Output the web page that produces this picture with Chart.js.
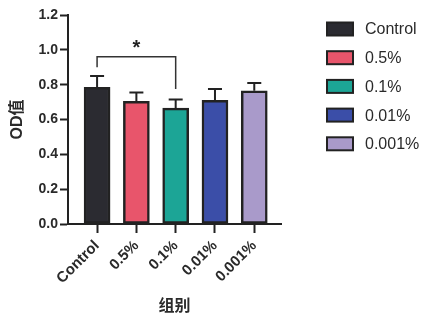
<!DOCTYPE html>
<html>
<head>
<meta charset="utf-8">
<script src="https://cdn.jsdelivr.net/npm/chart.js@4.4.0/dist/chart.umd.min.js"></script>
<style>
  html, body { margin: 0; padding: 0; background: #ffffff; }
  #wrap { width: 431px; height: 323px; }
</style>
</head>
<body>
<div id="wrap"><canvas id="od__chart" width="431" height="323"></canvas></div>
<script>
// Groups and values
const groups = ['Control', '0.5%', '0.1%', '0.01%', '0.001%'];
const odMeans = [0.785, 0.705, 0.665, 0.71, 0.765];
const odErrors = [0.065, 0.05, 0.05, 0.065, 0.045];
const yTicks = [0, 0.2, 0.4, 0.6, 0.8, 1.0, 1.2];

// Significance bracket: from group index, to group index, top value, left leg end, right leg end
const sigFrom = 0;
const sigTo = 2;
const sigLevels = [0.96, 0.90, 0.775];
const sigText = '*';

const barColors = ['#2b2b31', '#e8556b', '#1ca596', '#3b4ea8', '#a99aca'];
const inkColor = '#222222';
const fontFamily = "'Liberation Sans', Arial, 'Noto Sans CJK SC', sans-serif";

// Error bars + bracket drawn on top of the bars
const errorBarPlugin = {
  id: 'errorBars',
  afterDatasetsDraw(chart) {
    const ctx = chart.ctx;
    const x = chart.scales.x;
    const y = chart.scales.y;
    ctx.save();
    ctx.strokeStyle = inkColor;
    ctx.lineWidth = 2;
    odMeans.forEach((m, i) => {
      const px = x.getPixelForValue(i);
      const top = y.getPixelForValue(m);
      const errTop = y.getPixelForValue(m + odErrors[i]);
      ctx.beginPath();
      ctx.moveTo(px, top);
      ctx.lineTo(px, errTop);
      ctx.moveTo(px - 7, errTop);
      ctx.lineTo(px + 7, errTop);
      ctx.stroke();
    });

    // bracket
    const x1 = x.getPixelForValue(sigFrom);
    const x2 = x.getPixelForValue(sigTo);
    const yTop = y.getPixelForValue(sigLevels[0]);
    ctx.lineWidth = 1.5;
    ctx.strokeStyle = '#333333';
    ctx.beginPath();
    ctx.moveTo(x1, y.getPixelForValue(sigLevels[1]));
    ctx.lineTo(x1, yTop);
    ctx.lineTo(x2, yTop);
    ctx.lineTo(x2, y.getPixelForValue(sigLevels[2]));
    ctx.stroke();
    ctx.fillStyle = inkColor;
    ctx.font = 'bold 20px ' + fontFamily;
    ctx.textAlign = 'center';
    ctx.textBaseline = 'middle';
    ctx.fillText(sigText, (x1 + x2) / 2, yTop - 8);
    ctx.restore();
  }
};

// Legend on the right, one box per group
const sideLegendPlugin = {
  id: 'sideLegend',
  afterDraw(chart) {
    const ctx = chart.ctx;
    ctx.save();
    ctx.font = '16px ' + fontFamily;
    ctx.textAlign = 'left';
    ctx.textBaseline = 'middle';
    groups.forEach((g, i) => {
      const cy = 29 + i * 28.7;
      ctx.fillStyle = barColors[i];
      ctx.fillRect(327, cy - 6.5, 26, 13);
      ctx.strokeStyle = inkColor;
      ctx.lineWidth = 2;
      ctx.strokeRect(327, cy - 6.5, 26, 13);
      ctx.fillStyle = '#2a2a2a';
      ctx.fillText(g, 365, cy + 1);
    });
    ctx.restore();
  }
};

const ctx = document.getElementById('od__chart').getContext('2d');
const odChart = new Chart(ctx, {
  type: 'bar',
  data: {
    labels: groups,
    datasets: [{
      label: 'OD',
      data: odMeans.map((v, i) => ({ x: i, y: v })),
      backgroundColor: barColors,
      borderColor: inkColor,
      borderWidth: 2.5,
      borderSkipped: false,
      barThickness: 26
    }]
  },
  options: {
    responsive: false,
    animation: false,
    layout: { padding: { top: 8, right: 150, bottom: 0, left: 0 } },
    plugins: {
      tooltip: { enabled: false },
      legend: { display: false }
    },
    scales: {
      x: {
        type: 'linear',
        min: -0.74,
        max: 4.68,
        offset: false,
        afterBuildTicks: s => { s.ticks = groups.map((g, i) => ({ value: i })); },
        afterFit: s => { s.height = 99; },
        border: { color: inkColor, width: 2 },
        grid: { offset: false, drawOnChartArea: false, drawTicks: true, tickLength: 9, tickColor: inkColor, tickWidth: 2 },
        ticks: {
          minRotation: 45,
          maxRotation: 45,
          align: 'end',
          padding: 4,
          color: '#2a2a2a',
          font: { family: fontFamily, size: 15, weight: 'bold' },
          callback: v => groups[v]
        },
        title: {
          display: true,
          text: '组别',
          color: '#2a2a2a',
          padding: { top: 0, bottom: 7 },
          font: { family: fontFamily, size: 16, weight: 'bold' }
        }
      },
      y: {
        min: 0,
        max: 1.2,
        afterBuildTicks: s => { s.ticks = yTicks.map(v => ({ value: v })); },
        afterFit: s => { s.width = 68; s.paddingTop = 15; },
        border: { color: inkColor, width: 2 },
        grid: { drawOnChartArea: false, drawTicks: true, tickLength: 8, tickColor: inkColor, tickWidth: 2 },
        ticks: {
          padding: 2,
          color: '#2a2a2a',
          font: { family: fontFamily, size: 14, weight: 'bold' },
          callback: v => v.toFixed(1)
        },
        title: {
          display: true,
          text: 'OD值',
          color: '#2a2a2a',
          padding: { top: 8, bottom: 0 },
          font: { family: fontFamily, size: 16, weight: 'bold' }
        }
      }
    }
  },
  plugins: [errorBarPlugin, sideLegendPlugin]
});
</script>
</body>
</html>
